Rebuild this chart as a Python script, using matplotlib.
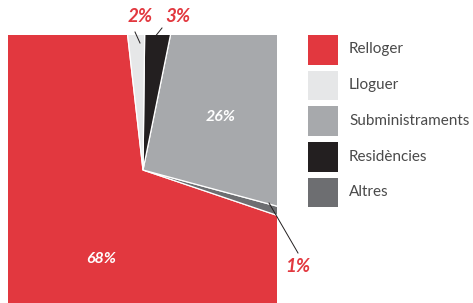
import matplotlib.pyplot as plt
from matplotlib.patches import Rectangle

# dades
categories = ['Relloger', 'Lloguer', 'Subministraments', 'Residències', 'Altres']
values = [68, 2, 26, 3, 1]
colors = ['#E2383F', '#E6E7E8', '#A7A9AC', '#231F20', '#6D6E71']

# ordre de dibuix del pastís (sentit antihorari des de Relloger)
draw_order = [0, 4, 2, 3, 1]

W, H = 473, 303
fig = plt.figure(figsize=(W / 100, H / 100), dpi=100)

# pastís retallat dins d'un rectangle: centre a (143, 170) px
cx, cy = 143, 170
x0, x1, y0, y1 = 8, 277, 35, 303
ax = fig.add_axes([x0 / W, (H - y1) / H, (x1 - x0) / W, (y1 - y0) / H])
wedges, _ = ax.pie([values[i] for i in draw_order],
                   colors=[colors[i] for i in draw_order],
                   startangle=96.5, counterclock=True, radius=260,
                   wedgeprops=dict(edgecolor='white', linewidth=0.9))
for w in wedges:
    w.set_clip_on(True)
    w.set_clip_box(ax.bbox)
ax.set_aspect('auto')
ax.set_xlim(x0 - cx, x1 - cx)
ax.set_ylim(cy - y1, cy - y0)
ax.axis('off')


def px(x, y):
    return (x - cx, cy - y)


hand = dict(family=['Lato', 'DejaVu Sans'], style='italic', fontweight='bold')

# etiquetes blanques dins del pastís
ax.text(*px(101, 259), f'{values[0]}%', color='white', fontsize=11.5,
        ha='center', va='center', **hand)
ax.text(*px(221, 117), f'{values[2]}%', color='white', fontsize=11.5,
        ha='center', va='center', **hand)

# etiquetes vermelles amb línia guia
red = colors[0]
for idx, (tx, ty), (lx0, ly0), (lx1, ly1) in [
        (1, (140, 17), (135, 32), (140, 43)),
        (3, (178, 17), (162, 28), (154, 38)),
        (4, (298, 266), (298, 253), (269, 203))]:
    ax.plot([px(lx0, ly0)[0], px(lx1, ly1)[0]], [px(lx0, ly0)[1], px(lx1, ly1)[1]],
            color='#231F20', linewidth=0.7, clip_on=False)
    ax.text(*px(tx, ty), f'{values[idx]}%', color=red, fontsize=13.5,
            ha='center', va='center', clip_on=False, **hand)

# llegenda
lax = fig.add_axes([0, 0, 1, 1])
lax.set_xlim(0, W)
lax.set_ylim(H, 0)
lax.axis('off')
for i, (lab, col) in enumerate(zip(categories, colors)):
    top = 35 + 35.7 * i
    lax.add_patch(Rectangle((308, top), 30, 29.5, facecolor=col, edgecolor='none'))
    lax.text(349, top + 14.5, lab, fontsize=11, color='#4A4A4A', va='center',
             ha='left', family=['Lato', 'DejaVu Sans'])

fig.savefig('out.png', dpi=100, facecolor='white')
